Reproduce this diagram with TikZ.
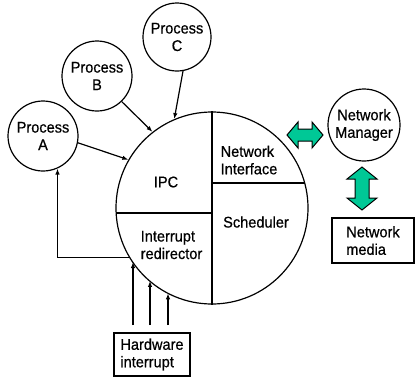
\documentclass[tikz,border=0pt]{standalone}
\usepackage{fontspec}
\setmainfont{Liberation Sans}[FakeBold=0.6,FakeStretch=0.94]
\usetikzlibrary{arrows.meta}
\definecolor{netgreen}{RGB}{0,200,150}
\begin{document}
\begin{tikzpicture}[x=1pt,y=-1pt,
  every node/.style={font=\fontsize{15.5}{17.5}\selectfont},
  proc/.style={draw,circle,line width=1.2pt,minimum size=70pt,inner sep=0pt,align=center},
  lbl/.style={inner sep=0pt,align=left},
  boxn/.style={draw,line width=1.2pt,inner sep=0pt,align=left},
  arr/.style={line width=1.2pt,-{Latex[length=6pt,width=4.5pt]}},
  fat/.style={draw=black,line width=1pt,fill=netgreen,line join=miter}]
\useasboundingbox (0,0) rectangle (415,378);
% main circle
\node[draw,circle,line width=1.2pt,minimum size=192pt,inner sep=0pt] (os) at (212,208) {};
\draw[line width=1.2pt] (os.north) -- (os.south);
\coordinate (rj) at (212,183);
\coordinate (lj) at (212,213);
% horizontal dividers clipped to circle
\begin{scope}
\clip (212,208) circle (96);
\draw[line width=1.2pt] (rj) -- ++(100,0);
\draw[line width=1.2pt] (lj) -- ++(-100,0);
\end{scope}
% labels inside
\node[lbl] (ipc) at (166,182) {IPC};
\node[lbl] (ni) at (249,160) {Network\\Interface};
\node[lbl] (ir) at (171.5,245) {Interrupt\\redirector};
\node[lbl] (sch) at (256,222) {Scheduler};
% processes
\node[proc] (pA) at (43,136) {Process\\A};
\node[proc] (pB) at (97,76) {Process\\B};
\node[proc,minimum size=68pt] (pC) at (177,37) {Process\\C};
\node[proc,minimum size=72pt] (nm) at (364,125) {Network\\Manager};
% boxes
\node[boxn,minimum width=82pt,minimum height=45pt] (media) at (373,240.5) {Network\\media};
\node[boxn,minimum width=76pt,minimum height=43pt] (hw) at (152,354.5) {Hardware\\interrupt};
% arrows to IPC
\draw[arr] (pA.-11) -- (os.150);
\draw[arr] (pB.-46) -- (os.128);
\draw[arr] (pC.-80) -- (os.113);
% feedback
\draw[arr] (os.211) -| (pA.-66);
% hardware arrows
\coordinate (h1) at (133,325);
\coordinate (h2) at (150,325);
\coordinate (h3) at (168,325);
\draw[arr] (h1) -- (h1 |- os.214.6);
\draw[arr] (h2) -- (h2 |- os.229.8);
\draw[arr] (h3) -- (h3 |- os.242.7);
% green double arrows
\draw[fat] (287,135) -- (298,122) -- (298,129) -- (312,129) -- (312,122) -- (323,135)
  -- (312,148) -- (312,141) -- (298,141) -- (298,148) -- cycle;
\draw[fat] (362,167) -- (377,179) -- (369,179) -- (369,198) -- (377,198) -- (362,210)
  -- (347,198) -- (355,198) -- (355,179) -- (347,179) -- cycle;
\end{tikzpicture}
\end{document}
